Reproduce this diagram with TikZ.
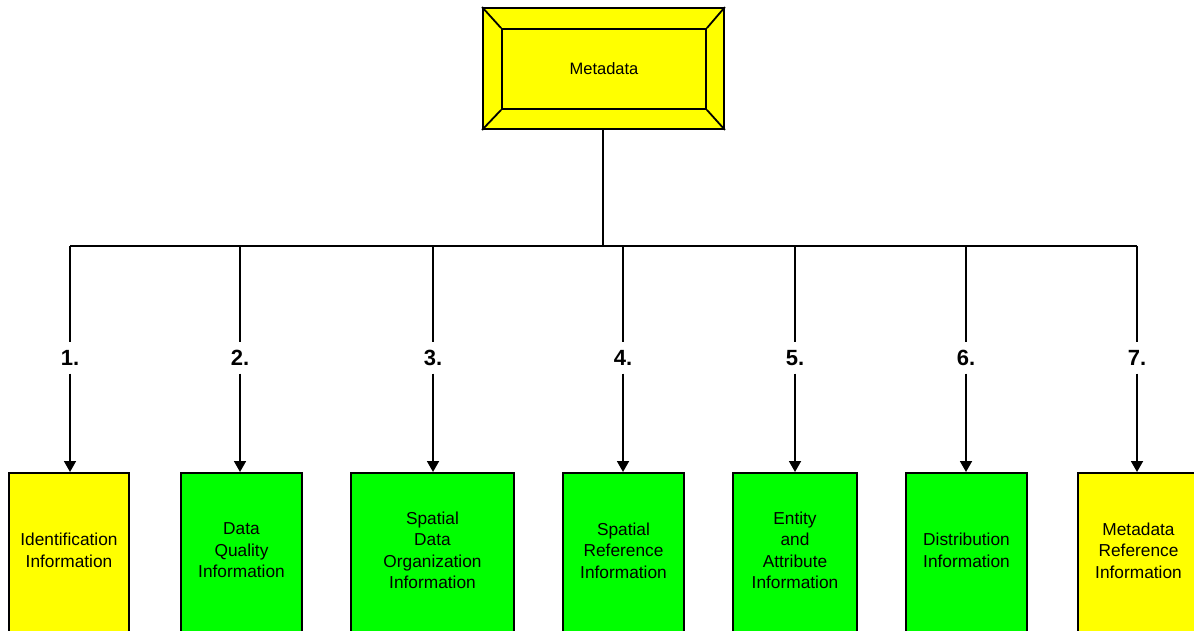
\documentclass[tikz,border=0pt]{standalone}
\usepackage{fontspec}
\setmainfont{Liberation Sans}
\usetikzlibrary{arrows.meta}
\definecolor{ylw}{HTML}{FFFF00}
\definecolor{grn}{HTML}{00FF00}
\tikzset{
  ln/.style={line width=1.8pt, black},
  arr/.style={ln, -{Triangle[length=11pt,width=12pt]}},
  boxy/.style={draw, ln, anchor=north, minimum height=175pt, inner sep=0pt},
  txt/.style={font=\fontsize{17.3}{21.5}\selectfont, align=center, inner sep=0pt},
  num/.style={font=\fontsize{22}{24}\selectfont\bfseries, minimum height=31pt, inner sep=0pt},
}
\begin{document}
\begin{tikzpicture}[x=1pt,y=-1pt]
\useasboundingbox (0,0) rectangle (1194,631);
\clip (0,0) rectangle (1194,631);
% top box
\node[draw, ln, fill=ylw, minimum width=241pt, minimum height=121pt, inner sep=0pt] (metaout) at (603.5,68.5) {};
\node[draw, ln, fill=ylw, minimum width=204pt, minimum height=80pt, inner sep=0pt, font=\fontsize{16.5}{20}\selectfont] (meta) at (604,69) {Metadata};
\draw[ln] (metaout.north west) -- (meta.north west);
\draw[ln] (metaout.north east) -- (meta.north east);
\draw[ln] (metaout.south west) -- (meta.south west);
\draw[ln] (metaout.south east) -- (meta.south east);
% trunk
\coordinate (j0) at (603,246);
\draw[ln] (metaout.south -| j0) -- (j0);
\coordinate (c1) at (70,246);
\coordinate (c2) at (240,246);
\coordinate (c3) at (433,246);
\coordinate (c4) at (623,246);
\coordinate (c5) at (795,246);
\coordinate (c6) at (966,246);
\coordinate (c7) at (1137,246);
\draw[ln] (c1) -- (c7);
% boxes
\node[boxy, fill=ylw, minimum width=120pt] (b1) at (69,472) {};
\node[boxy, fill=grn, minimum width=121pt] (b2) at (241.5,472) {};
\node[boxy, fill=grn, minimum width=163pt] (b3) at (432.5,472) {};
\node[boxy, fill=grn, minimum width=121pt] (b4) at (623.5,472) {};
\node[boxy, fill=grn, minimum width=124pt] (b5) at (795,472) {};
\node[boxy, fill=grn, minimum width=121pt] (b6) at (966.5,472) {};
\node[boxy, fill=ylw, minimum width=121pt] (b7) at (1138.5,472) {};
% texts
\node[txt] (t1) at (69,550.5) {Identification\\Information};
\node[txt] (t2) at (241.5,550.5) {Data\\Quality\\Information};
\node[txt] (t3) at (432.5,550.5) {Spatial\\Data\\Organization\\Information};
\node[txt] (t4) at (623.5,550.5) {Spatial\\Reference\\Information};
\node[txt] (t5) at (795,550.5) {Entity\\and\\Attribute\\Information};
\node[txt] (t6) at (966.5,550.5) {Distribution\\Information};
\node[txt] (t7) at (1138.5,550.5) {Metadata\\Reference\\Information};
% labels
\node[num] (l1) at (70,358) {1.};
\node[num] (l2) at (240,358) {2.};
\node[num] (l3) at (433,358) {3.};
\node[num] (l4) at (623,358) {4.};
\node[num] (l5) at (795,358) {5.};
\node[num] (l6) at (966,358) {6.};
\node[num] (l7) at (1137,358) {7.};
\foreach \i in {1,...,7}{
  \draw[ln] (c\i) -- (l\i.north);
  \draw[arr] (l\i.south) -- (l\i.south |- b\i.north);
}
\end{tikzpicture}
\end{document}
